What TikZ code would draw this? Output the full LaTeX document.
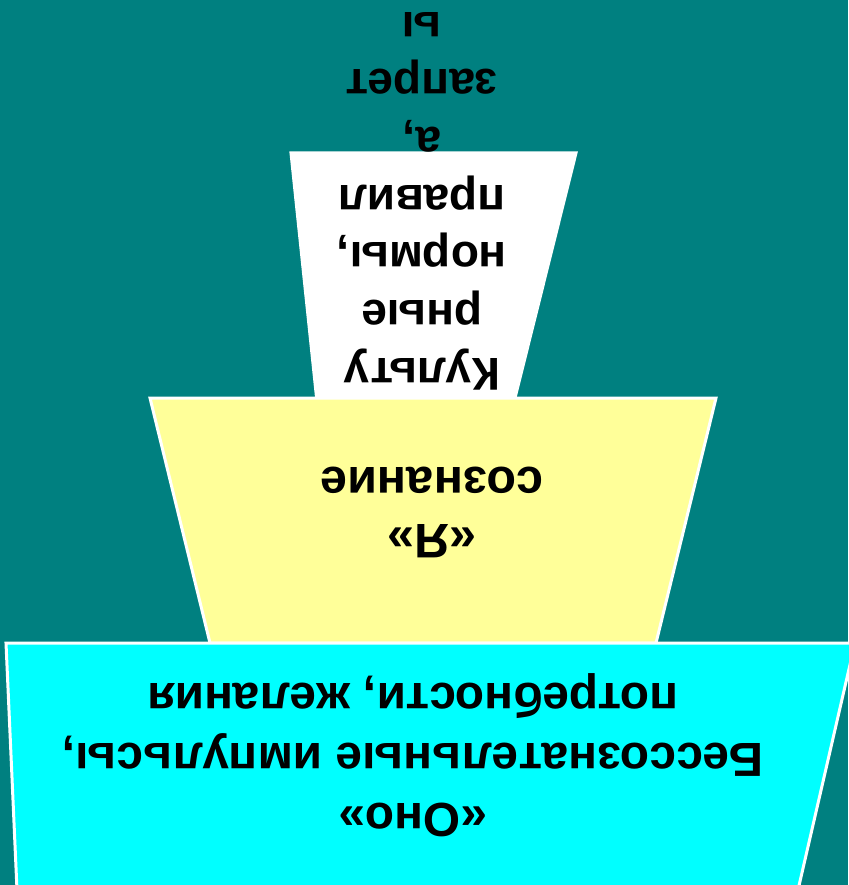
\documentclass[tikz,border=0pt]{standalone}
\usepackage{fontspec}
\setmainfont{Liberation Sans}
\definecolor{tealbg}{RGB}{0,128,128}
\definecolor{egoyellow}{RGB}{255,255,153}
\definecolor{idcyan}{RGB}{0,255,255}
\tikzset{
  layer/.style={draw=white, line width=0.3mm},
  upside/.style={rotate=180, align=center, text=black, inner sep=0pt}
}

\begin{document}
\begin{tikzpicture}[x=0.01cm, y=-0.01cm]
			%%%%% START %%%%%
			
			\fill[tealbg] (0, 0) rectangle (848, 885);
			\useasboundingbox (0, 0) rectangle (848, 885);
			
			\draw[layer, fill=white] (291, 153) -- (576, 153) -- (514, 402) -- (317, 402) -- cycle;
			\draw[layer, fill=egoyellow] (150, 398) -- (716, 398) -- (656, 643) -- (210, 643) -- cycle;
			\draw[layer, fill=idcyan] (6, 643) -- (855, 643) -- (798, 890) -- (17, 890) -- cycle;
			
			\node[upside, font=\bfseries\fontsize{13.1}{16.4}\selectfont] (superego) at (422, 201) {Культу\\рные\\нормы,\\правил\\а,\\запрет\\ы};
			\node[upside, font=\bfseries\fontsize{13.8}{16.2}\selectfont] (ego) at (432, 512) {«Я»\\сознание};
			\node[upside, font=\bfseries\fontsize{13.6}{17.1}\selectfont] (id) at (413, 755) {«Оно»\\Бессознательные импульсы,\\потребности, желания};
			
			%%%%% END %%%%%
\end{tikzpicture}
\end{document}
